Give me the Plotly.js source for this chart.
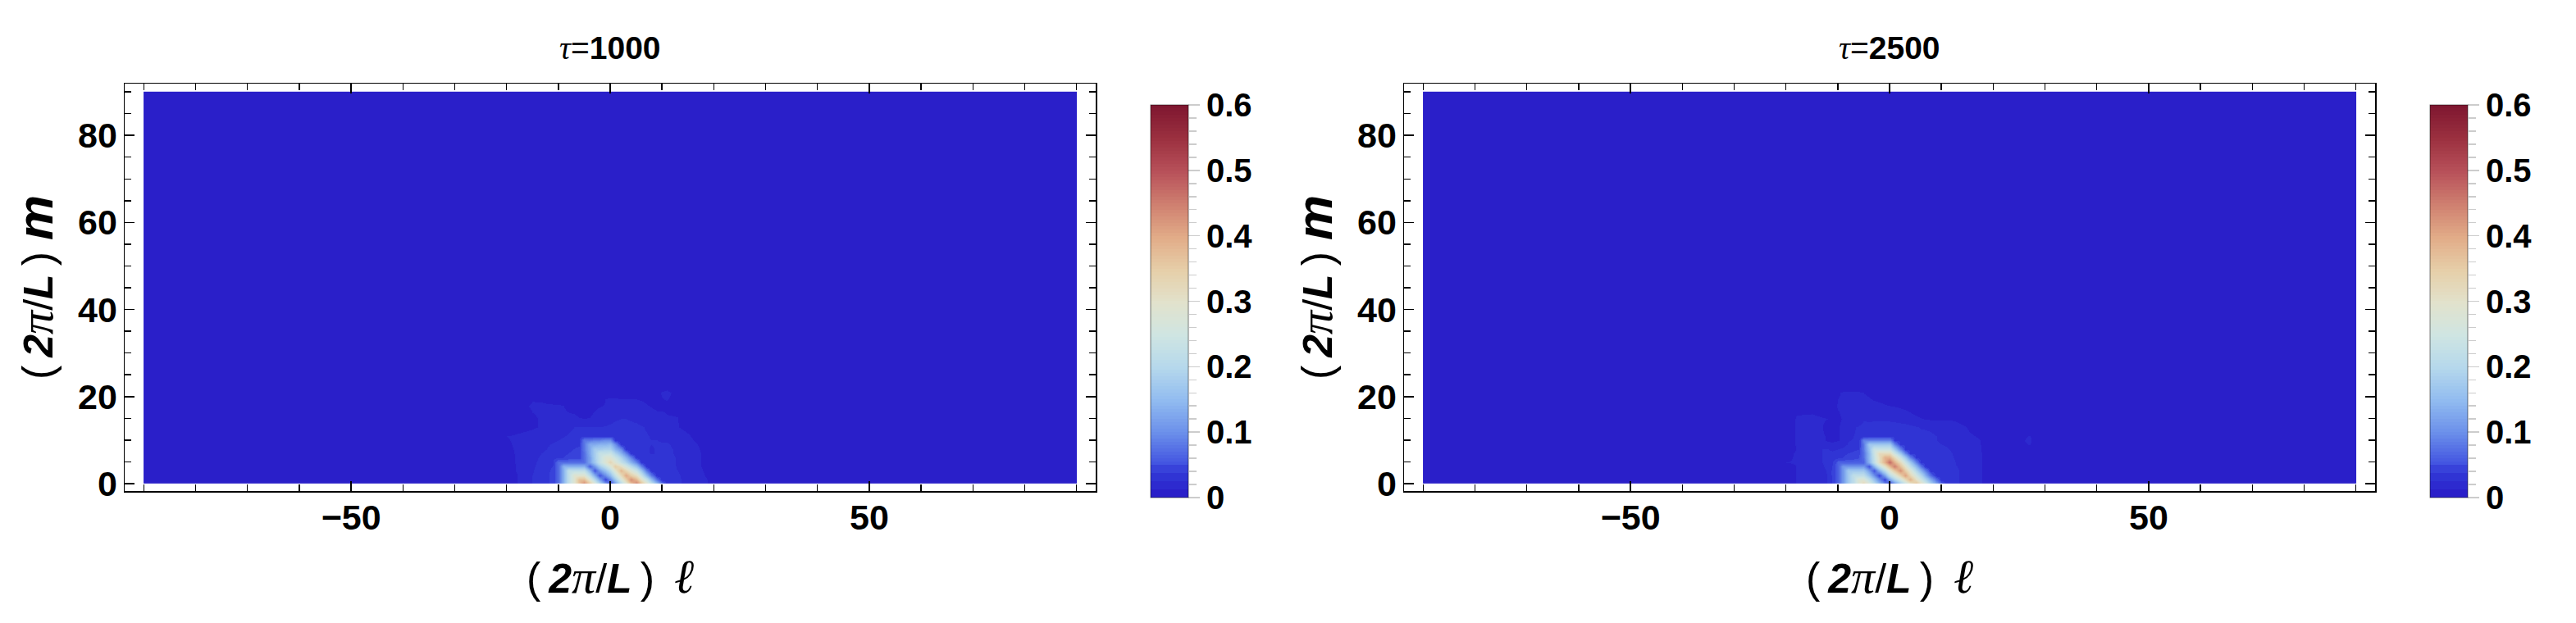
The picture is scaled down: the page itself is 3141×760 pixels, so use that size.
<!DOCTYPE html>
<html><head><meta charset="utf-8">
<script src="https://cdn.plot.ly/plotly-3.0.1.min.js"></script>
<style>html,body{margin:0;padding:0;background:#fff}</style></head>
<body><div id="chart" style="width:3141px;height:760px"></div>
<script>
const ellValues=[-90,-30,-22,-18,-15,-13,-12,-11,-10,-9,-8,-7,-6,-5,-4,-3,-2,-1,0,1,2,3,4,5,6,7,8,9,10,11,12,13,15,18,22,27,30,90];
const mValues=[0,1,2,3,4,5,6,7,8,9,10,11,13,15,18,21,25,90];
const tauLabels=['1000','2500'];
const barTickStep=0.1, barMax=0.6;
const panel1=[
[0,0,.006,.012,.025,.034,.037,.04,.07,.14,.22,.29,.37,.44,.36,.28,.19,.11,.03,.11,.20,.28,.37,.45,.37,.30,.22,.15,.07,.03,.028,.026,.023,.014,.005,0,0,0],
[0,0,.006,.012,.025,.034,.037,.04,.07,.14,.22,.29,.37,.37,.28,.20,.12,.04,.09,.17,.26,.34,.43,.38,.30,.23,.15,.07,.03,.03,.028,.026,.023,.014,.005,0,0,0],
[0,0,.006,.012,.025,.034,.037,.04,.07,.14,.22,.29,.29,.29,.21,.13,.05,.10,.15,.23,.32,.40,.35,.31,.23,.15,.08,.03,.03,.03,.028,.026,.022,.013,.004,0,0,0],
[0,0,.005,.013,.024,.032,.036,.04,.07,.14,.22,.22,.22,.22,.14,.05,.11,.16,.21,.29,.38,.33,.28,.23,.16,.08,.03,.03,.03,.03,.027,.025,.021,.012,.004,0,0,0],
[0,0,.006,.013,.023,.031,.035,.038,.07,.14,.14,.14,.14,.14,.06,.11,.17,.22,.27,.35,.31,.26,.21,.16,.09,.03,.03,.03,.03,.03,.027,.024,.02,.011,.003,0,0,0],
[0,0,.007,.013,.022,.03,.034,.036,.07,.07,.07,.07,.07,.07,.12,.17,.23,.28,.33,.28,.23,.19,.14,.09,.03,.03,.03,.03,.03,.03,.026,.024,.02,.011,.003,0,0,0],
[0,0,.008,.013,.021,.028,.032,.034,.035,.038,.04,.04,.04,.07,.12,.18,.23,.28,.28,.24,.19,.14,.09,.03,.03,.03,.03,.03,.03,.03,.026,.024,.02,.011,.003,0,0,0],
[0,0,.009,.013,.02,.026,.029,.031,.033,.035,.038,.04,.04,.07,.13,.18,.23,.23,.24,.19,.14,.09,.03,.03,.03,.027,.024,.026,.028,.028,.025,.024,.02,.011,.003,0,0,0],
[0,0,.01,.013,.018,.023,.026,.028,.03,.032,.035,.038,.04,.08,.13,.18,.18,.19,.19,.14,.10,.03,.03,.03,.028,.026,.024,.026,.027,.027,.025,.023,.019,.01,.003,0,0,0],
[0,0,.011,.013,.017,.021,.024,.026,.028,.03,.032,.035,.036,.08,.13,.13,.14,.14,.15,.10,.03,.03,.03,.03,.028,.026,.025,.026,.026,.026,.024,.022,.018,.009,.002,0,0,0],
[0,0,.0115,.013,.015,.019,.021,.023,.025,.028,.03,.032,.034,.08,.08,.09,.09,.10,.10,.03,.03,.03,.03,.03,.028,.026,.025,.025,.024,.024,.022,.02,.016,.006,.001,0,0,0],
[0,0,.012,.013,.014,.017,.018,.02,.022,.024,.027,.03,.032,.034,.034,.034,.034,.034,.034,.032,.031,.03,.03,.029,.027,.026,.024,.023,.022,.021,.02,.018,.014,.004,0,0,0,0],
[0,0,.008,.011,.012,.013,.014,.015,.016,.018,.021,.025,.025,.025,.025,.025,.025,.026,.027,.028,.028,.028,.028,.028,.026,.024,.02,.018,.016,.015,.014,.013,.009,.002,0,0,0,0],
[0,0,.004,.009,.012,.013,.0135,.014,.014,.014,.014,.014,.013,.0125,.013,.015,.017,.02,.022,.024,.025,.025,.024,.022,.02,.018,.016,.015,.014,.013,.013,.013,.004,.001,0,0,0,0],
[0,0,.005,.011,.013,.013,.013,.013,.013,.0125,.011,.01,.009,.009,.009,.011,.012,.013,.014,.015,.015,.015,.015,.015,.014,.013,.012,.011,.0115,.0115,.011,.01,.006,.002,0,0,0,0],
[0,0,.002,.008,.0115,.011,.01,.009,.008,.007,.006,.005,.004,.004,.004,.004,.005,.012,.0115,.011,.01,.01,.01,.01,.01,.01,.01,.011,.013,.014,.012,.008,.002,0,0,0,0,0],
[0,0,.001,.003,.003,.003,.003,.003,.003,.003,.003,.003,.003,.003,.003,.003,.003,.003,.003,.003,.003,.003,.003,.003,.003,.003,.003,.003,.003,.003,.003,.002,.001,0,0,0,0,0],
[0,0,0,0,0,0,0,0,0,0,0,0,0,0,0,0,0,0,0,0,0,0,0,0,0,0,0,0,0,0,0,0,0,0,0,0,0,0]
];
const panel2=[
[0,0,.005,.0125,.017,.022,.025,.04,.06,.11,.17,.22,.28,.33,.27,.21,.15,.09,.03,.10,.17,.23,.30,.37,.31,.25,.18,.12,.06,.03,.028,.026,.021,.012,.004,0,0,0],
[0,0,.005,.0125,.017,.022,.025,.04,.06,.11,.17,.22,.28,.28,.22,.16,.10,.04,.12,.19,.25,.32,.39,.31,.25,.19,.13,.07,.03,.03,.028,.026,.021,.012,.004,0,0,0],
[0,0,.006,.0125,.017,.022,.025,.04,.06,.11,.17,.22,.22,.22,.16,.10,.04,.12,.21,.27,.34,.41,.33,.26,.20,.13,.07,.03,.03,.03,.028,.026,.021,.012,.004,0,0,0],
[0,0,.008,.0125,.018,.023,.026,.04,.06,.11,.17,.17,.17,.17,.11,.05,.13,.21,.29,.36,.43,.35,.28,.20,.14,.08,.03,.03,.03,.03,.028,.026,.021,.012,.004,0,0,0],
[0,0,.009,.0125,.018,.024,.027,.038,.06,.11,.11,.11,.11,.11,.05,.14,.22,.30,.38,.45,.37,.30,.22,.15,.08,.03,.032,.03,.03,.03,.027,.025,.02,.012,.004,.001,0,0],
[0,0,.012,.013,.018,.025,.028,.036,.06,.06,.06,.06,.06,.06,.14,.22,.31,.39,.47,.39,.32,.24,.17,.09,.034,.034,.032,.031,.03,.029,.027,.024,.019,.012,.004,.002,0,0],
[0,0,.008,.0135,.018,.025,.029,.031,.034,.038,.042,.045,.048,.07,.15,.23,.31,.39,.39,.32,.24,.17,.09,.035,.034,.033,.032,.031,.03,.029,.026,.023,.018,.012,.005,.004,0,0],
[0,0,.006,.0135,.018,.025,.028,.029,.031,.034,.038,.04,.045,.07,.15,.24,.32,.32,.32,.24,.17,.09,.035,.034,.033,.032,.031,.03,.029,.028,.025,.022,.017,.012,.005,.006,0,0],
[0,0,.004,.0125,.017,.025,.026,.022,.025,.028,.032,.035,.037,.08,.16,.24,.24,.24,.24,.17,.09,.036,.034,.033,.032,.031,.03,.029,.028,.026,.024,.021,.016,.012,.006,.009,0,0],
[0,0,.003,.013,.016,.015,.014,.014,.016,.02,.026,.03,.032,.08,.17,.17,.17,.17,.17,.09,.036,.035,.034,.033,.032,.03,.028,.026,.025,.024,.023,.02,.015,.012,.007,.013,0,0],
[0,0,.003,.013,.015,.013,.012,.011,.012,.014,.024,.026,.028,.09,.09,.09,.09,.09,.09,.036,.035,.034,.033,.032,.03,.028,.026,.025,.024,.022,.021,.019,.015,.012,.007,.014,0,0],
[0,0,.003,.013,.015,.013,.012,.011,.012,.014,.02,.025,.027,.03,.032,.033,.034,.034,.034,.034,.033,.032,.031,.03,.029,.027,.026,.025,.023,.021,.02,.018,.014,.011,.006,.013,0,0],
[0,0,.003,.013,.015,.0125,.011,.011,.012,.014,.017,.024,.026,.028,.029,.03,.03,.03,.03,.03,.03,.03,.028,.026,.024,.024,.024,.023,.022,.021,.019,.017,.012,.007,.004,.006,0,0],
[0,0,.002,.013,.014,.013,.0125,.011,.0115,.013,.014,.016,.019,.024,.023,.023,.023,.023,.023,.022,.02,.018,.016,.014,.013,.012,.011,.011,.011,.011,.011,.01,.006,.003,.001,.001,0,0],
[0,0,.001,.011,.01,.009,.009,.011,.013,.0135,.0135,.0135,.0135,.0135,.0135,.0135,.0135,.013,.0125,.012,.011,.01,.009,.008,.007,.007,.006,.006,.006,.005,.005,.005,.003,.001,0,0,0,0],
[0,0,0,.003,.003,.003,.004,.005,.012,.013,.013,.013,.013,.0125,.012,.011,.01,.009,.008,.007,.006,.005,.005,.004,.004,.003,.003,.003,.003,.002,.002,.002,.001,0,0,0,0,0],
[0,0,0,.001,.002,.002,.002,.002,.003,.004,.005,.005,.005,.005,.004,.004,.004,.003,.003,.003,.003,.002,.002,.002,.002,.002,.002,.001,.001,.001,.001,.001,0,0,0,0,0,0],
[0,0,0,0,0,0,0,0,0,0,0,0,0,0,0,0,0,0,0,0,0,0,0,0,0,0,0,0,0,0,0,0,0,0,0,0,0,0]
];
const anchorValues=[0,.025,.05,.1,.15,.2,.25,.3,.35,.4,.45,.5,.55,.6];
const anchorColors=['#2a1fc9','#3034d4','#3f4fe0','#6a8eea','#91bbf0','#b5d8ec','#cfe5e2','#e2e2cc','#e6cfa9','#e2ac88','#cf8070','#b8515a','#9c3140','#7f1730'];
const W=3141,H=760,offset=1560;
function hex(c){return [1,3,5].map(i=>parseInt(c.substr(i,2),16));}
function colorAt(v){
  let k=0; while(k<anchorValues.length-2&&v>anchorValues[k+1])k++;
  const f=(v-anchorValues[k])/(anchorValues[k+1]-anchorValues[k]),a=hex(anchorColors[k]),b=hex(anchorColors[k+1]);
  return 'rgb('+a.map((q,j)=>Math.round(q+(b[j]-q)*f)).join(',')+')';
}
function steppedScale(){
  const out=[];let v=0;
  while(v<barMax-1e-9){
    const step=v<0.05-1e-9?0.0125:0.005,next=Math.min(v+step,barMax),c=colorAt(v+(v<0.05-1e-9?0:step));
    out.push([v/barMax,c],[next/barMax,c]);v=next;
  }
  out[out.length-1][0]=1;
  return out;
}
const scale=steppedScale();
function padX(a){return [a[0],a[0]+0.1,...a.slice(1,-1),a[a.length-1]-0.1,a[a.length-1]];}
function padRows(rows){
  const r=rows.map(q=>[q[0],q[0],...q.slice(1,-1),q[q.length-1],q[q.length-1]]);
  return [r[0],r[0],...r.slice(1,-1),r[r.length-1],r[r.length-1]];
}
const FONT='"Liberation Sans",Arial,sans-serif';
const pi='<span style="font-family:\'Liberation Serif\';font-style:italic;font-weight:400;font-size:58px">π</span>';
const slash='<span style="font-weight:400">/</span>';
const paren=c=>'<span style="font-weight:400;font-size:52px">'+c+'</span>';
const prefix=paren('(')+'\u2009<b><i>2</i></b>'+pi+slash+'<b><i>L</i></b>\u2009'+paren(')');
const traces=[],layout={width:W,height:H,margin:{l:0,r:0,t:0,b:0,pad:0},autosize:false,paper_bgcolor:'#fff',plot_bgcolor:'#fff',showlegend:false,font:{family:FONT,color:'#000'},annotations:[]};
function axisCommon(){return {showgrid:false,zeroline:false,showline:true,linecolor:'#000',linewidth:1.5,mirror:'allticks',ticks:'inside',tickwidth:1.5,tickcolor:'#000',tickfont:{family:FONT,size:43,weight:700,color:'#000'}};}
[panel1,panel2].forEach((z,i)=>{
  const n=i?String(i+1):'',dx=i*offset;
  traces.push({type:'heatmap',x:padX(ellValues),y:padX(mValues),z:padRows(z),xaxis:'x'+n,yaxis:'y'+n,zmin:0,zmax:barMax,zsmooth:'best',colorscale:scale,hoverinfo:'skip',
    colorbar:{x:(1403+dx)/W,xanchor:'left',xpad:0,y:(H-607)/H,yanchor:'bottom',ypad:0,len:479,lenmode:'pixels',thickness:46,thicknessmode:'pixels',outlinewidth:1,outlinecolor:'rgba(0,0,0,0.5)',borderwidth:0,ticks:'outside',ticklen:14,tickwidth:1.5,tickcolor:'#ccc',dtick:barTickStep,tick0:0,tickfont:{family:FONT,size:40,weight:700,color:'#000'}}});
  layout['xaxis'+n]=Object.assign(axisCommon(),{domain:[(152+dx)/W,(1336+dx)/W],range:[-93.7,93.7],anchor:'y'+n,tick0:0,dtick:50,ticklen:12,ticklabelstandoff:-6,
    minor:{ticks:'inside',dtick:10,tick0:0,ticklen:8,tickwidth:1.5,tickcolor:'#000',showgrid:false},
    title:{text:prefix+'\u2009 <span style="font-family:\'DejaVu Serif\';font-style:italic;font-weight:400;font-size:58px">ℓ</span>',font:{family:FONT,size:50,color:'#000'},standoff:34}});
  layout['yaxis'+n]=Object.assign(axisCommon(),{domain:[(H-599)/H,(H-102)/H],range:[-1.7,91.9],anchor:'x'+n,tick0:0,dtick:20,ticklen:12,ticklabelstandoff:-1,
    minor:{ticks:'inside',dtick:5,tick0:0,ticklen:8,tickwidth:1.5,tickcolor:'#000',showgrid:false},
    title:{text:prefix+' <b><i><span style="font-size:62px">m</span></i></b>',font:{family:FONT,size:50,color:'#000'},standoff:14}});
  layout.annotations.push({xref:'paper',yref:'paper',x:(744+dx)/W,y:(H-58)/H,xanchor:'center',yanchor:'middle',showarrow:false,
    text:'<span style="font-family:\'Liberation Serif\';font-style:italic">τ</span>=<b>'+tauLabels[i]+'</b>',font:{family:FONT,size:39,color:'#000'}});
  const k=i+3;
  traces.push({type:'scatter',mode:'markers',x:[0],y:[0],xaxis:'x'+k,yaxis:'y'+k,marker:{opacity:0,size:1},hoverinfo:'skip',showlegend:false});
  layout['xaxis'+k]={domain:[(1403+dx)/W,(1449+dx)/W],visible:false,anchor:'y'+k,range:[-1,1]};
  layout['yaxis'+k]={domain:[(H-607)/H,(H-128)/H],range:[0,barMax],anchor:'free',position:(1449+dx)/W,side:'right',showgrid:false,zeroline:false,showline:false,showticklabels:false,ticks:'',dtick:barTickStep,
    minor:{ticks:'outside',dtick:0.02,tick0:0,ticklen:9,tickwidth:1.5,tickcolor:'#ccc',showgrid:false}};
});
Plotly.newPlot('chart',traces,layout,{staticPlot:true,displayModeBar:false});
</script></body></html>
